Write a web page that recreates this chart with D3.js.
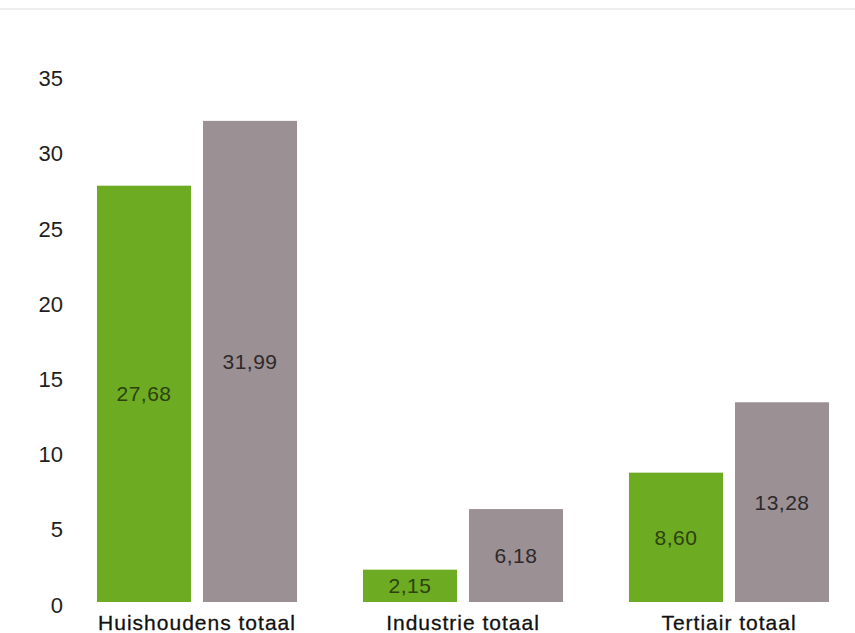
<!DOCTYPE html>
<html><head><meta charset="utf-8">
<script src="https://cdn.jsdelivr.net/npm/d3@7"></script>
<style>body{margin:0;background:#fff}svg{display:block}</style>
</head><body>
<svg id="c" width="855" height="633"></svg>
<script>
const categories = ["Huishoudens totaal", "Industrie totaal", "Tertiair totaal"];
const seriesA = [27.68, 2.15, 8.60];
const seriesB = [31.99, 6.18, 13.28];
const yTicks = [0, 5, 10, 15, 20, 25, 30, 35];

const svg = d3.select("#c");
const font = "'Liberation Sans', Arial, sans-serif";
const y = d3.scaleLinear().domain([0, 35]).range([602, 75.6]);
const x0 = d3.scaleBand().domain(categories).range([64, 862]).paddingInner(0.248).paddingOuter(0.124);
const x1 = d3.scaleBand().domain(["A", "B"]).range([0, x0.bandwidth()]).paddingInner(0.113);
const colors = {A: "#6dab22", B: "#9b9094"};

svg.append("line").attr("x1", 0).attr("x2", 855).attr("y1", 9).attr("y2", 9)
  .attr("stroke", "#f0f0f0").attr("stroke-width", 2);

const yAxis = svg.append("g").attr("transform", "translate(63,0)")
  .call(d3.axisLeft(y).tickValues(yTicks).tickSize(0).tickPadding(0).tickFormat(d3.format("d")));
yAxis.select(".domain").remove();
yAxis.selectAll("text").attr("font-family", font).attr("font-size", 22).attr("fill", "#1e1e1e")
  .attr("dy", "0.46em").attr("transform", "scale(1,1.08)")
  .each(function () { const t = d3.select(this); t.attr("y", +t.attr("y") || 0); });
yAxis.selectAll(".tick text").attr("transform", null).attr("dy", "0.46em");

const data = categories.map((c, i) => ({c, vals: [{k: "A", v: seriesA[i]}, {k: "B", v: seriesB[i]}]}));
const g = svg.selectAll("g.grp").data(data).join("g").attr("class", "grp")
  .attr("transform", d => `translate(${x0(d.c)},0)`);
g.selectAll("rect").data(d => d.vals).join("rect")
  .attr("x", d => x1(d.k)).attr("width", x1.bandwidth())
  .attr("y", d => y(d.v)).attr("height", d => y(0) - y(d.v))
  .attr("fill", d => colors[d.k]);
const fmt = v => v.toFixed(2).replace(".", ",");
g.selectAll("text.v").data(d => d.vals).join("text").attr("class", "v")
  .attr("x", d => x1(d.k) + x1.bandwidth() / 2)
  .attr("y", d => (y(d.v) + y(0)) / 2)
  .attr("dy", "0.36em").attr("text-anchor", "middle")
  .attr("font-family", font).attr("font-size", 21).attr("letter-spacing", 0.5)
  .attr("fill", d => d.k === "A" ? "#2c4210" : "#2e292b")
  .text(d => fmt(d.v));

const xAxis = svg.append("g").attr("transform", "translate(0,602)")
  .call(d3.axisBottom(x0).tickSize(0).tickPadding(0));
xAxis.select(".domain").remove();
xAxis.selectAll("text").attr("font-family", font).attr("font-size", 21).attr("fill", "#111")
  .attr("letter-spacing", 1).attr("stroke", "#111").attr("stroke-width", 0.3)
  .attr("y", 28).attr("dy", 0);
</script>
</body></html>
